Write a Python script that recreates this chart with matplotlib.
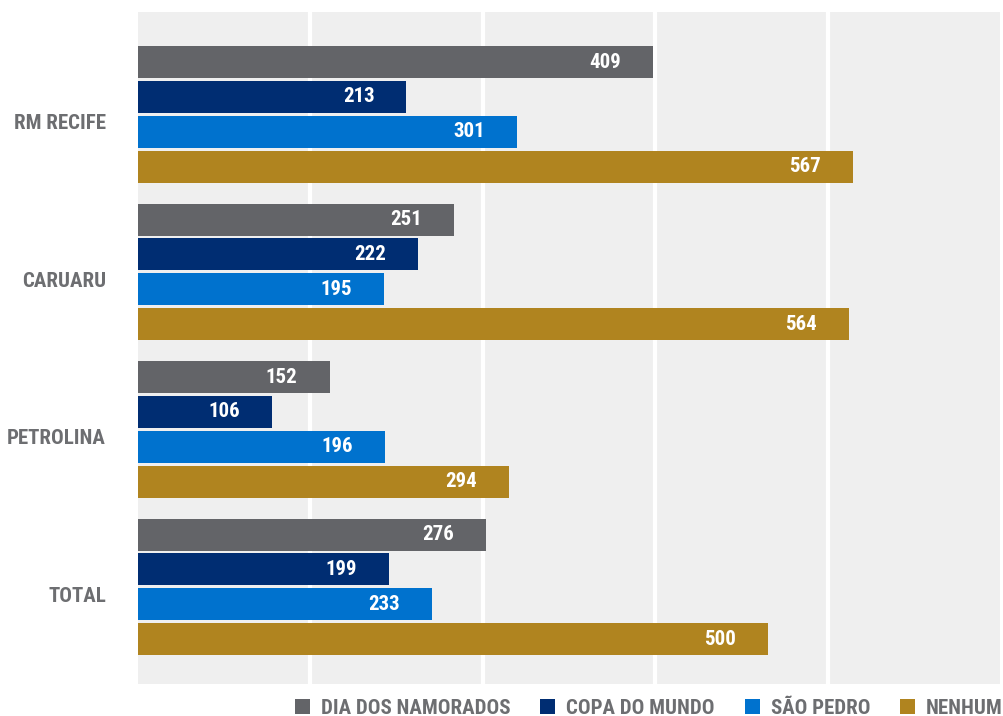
import matplotlib.pyplot as plt
from matplotlib.patches import Patch

regions = ['RM RECIFE', 'CARUARU', 'PETROLINA', 'TOTAL']
series = ['DIA DOS NAMORADOS', 'COPA DO MUNDO', 'SÃO PEDRO', 'NENHUM']
dia_namorados = [409, 251, 152, 276]
copa_mundo = [213, 222, 106, 199]
sao_pedro = [301, 195, 196, 233]
nenhum = [567, 564, 294, 500]
colors = ['#636468', '#002D72', '#0072CE', '#B0841F']

plt.rcParams['font.family'] = ['Roboto Condensed', 'DejaVu Sans']

fig = plt.figure(figsize=(10.04, 7.16), dpi=100)
ax = fig.add_axes([138 / 1004, 1 - 684 / 716, 862 / 1004, 672 / 716])
ax.set_facecolor('#EFEFEF')

group_step = 4.526
xmax = 684
for j, (vals, col) in enumerate(zip([dia_namorados, copa_mundo, sao_pedro, nenhum], colors)):
    ys = [i * group_step + j for i in range(len(regions))]
    ax.barh(ys, vals, height=0.92, color=col, zorder=3)
    for y, v in zip(ys, vals):
        ax.annotate(str(v), (v, y), xytext=(-32, 0), textcoords='offset pixels',
                    ha='right', va='center', color='white', fontsize=15,
                    fontweight='bold', zorder=4)

# white vertical grid, 5 equal steps
for k in range(1, 5):
    ax.axvline(xmax / 5 * k, color='white', lw=3, zorder=1)

ax.set_xlim(0, xmax)
ax.set_ylim(17.87, -1.44)
ax.set_xticks([])
ax.set_yticks([i * group_step + 1.72 for i in range(len(regions))])
ax.set_yticklabels(regions, fontsize=15, fontweight='bold', color='#6D6E71')
ax.tick_params(axis='y', length=0, pad=23)
for s in ax.spines.values():
    s.set_visible(False)

handles = [Patch(facecolor=c, edgecolor='none') for c in colors]
leg = fig.legend(handles, series, loc='center right',
                 bbox_to_anchor=(1003 / 1004, 1 - 708 / 716),
                 ncol=4, frameon=False, borderpad=0, borderaxespad=0,
                 handlelength=0.72, handleheight=0.72,
                 handletextpad=0.53, columnspacing=1.44,
                 prop={'size': 15, 'weight': 'bold'})
for t in leg.get_texts():
    t.set_color('#6D6E71')

fig.savefig('out.png', dpi=100)
